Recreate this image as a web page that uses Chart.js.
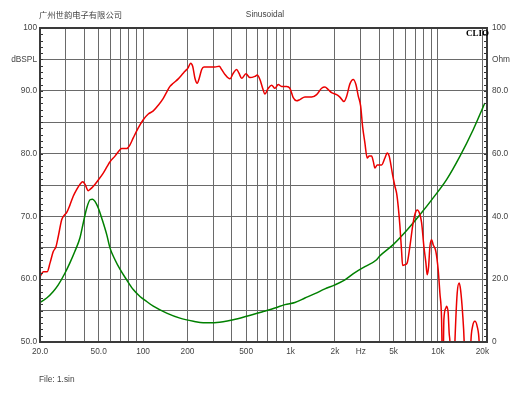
<!DOCTYPE html>
<html><head><meta charset="utf-8">
<script src="https://cdn.jsdelivr.net/npm/chart.js@4"></script>
<style>
html,body{margin:0;padding:0;background:#fff;}
#wrap{position:relative;width:530px;height:398px;overflow:hidden;background:#fff;}
canvas{position:absolute;left:0;top:0;}
.t{position:absolute;white-space:nowrap;color:#444;font-family:'Liberation Sans',Arial,sans-serif;font-size:8.3px;line-height:10px;}
</style></head><body>
<div id="wrap">
<canvas id="c" width="530" height="398"></canvas>
<div class="t" style="left:39px;top:9px;font-family:'Noto Sans CJK SC',sans-serif;font-size:8.3px;">广州世韵电子有限公司</div>
<div class="t" style="left:0;width:530px;text-align:center;top:9px;">Sinusoidal</div>
<div class="t" style="left:466px;top:28px;font-family:'Liberation Serif',serif;font-weight:bold;font-size:9px;color:#000;">CLIO</div>
<div class="t" style="left:39px;top:374px;">File: 1.sin</div>
</div>
<script>
// SPL response (red), Hz / dBSPL
const freqSpl = [20,21.1,22.4,23.4,24.6,25.7,26.6,28.1,29.5,30.3,
31.9,33.6,35.5,37.3,39,40.4,42.5,43.7,46,49.7,
53.7,57.2,59.7,64.5,69.7,71.6,77.4,81.5,85.8,92.8,
100.3,108.5,117.3,126.8,137.1,144.6,152.2,160.2,173.2,182.7,
192.3,202.5,210.2,217,224.8,233,240.4,249.8,258.8,284.2,
307.4,328.7,341.2,359.2,388.4,409,431.2,447,466.2,498.6,
530.6,573.8,594.6,620.2,647,670.6,706,744.6,784,825.4,
870.2,941,990.8,1043,1100,1158,1252,1390,1503,1625,
1711,1801,1899,2054,2162,2302,2400,2528,2662,2777,
2878,2988,3082,3194,3311,3417,3548,3638,3736,3873,
4148,4366,4526,4668,4772,4924,5104,5240,5374,5518,
5666,5754,5964,6182,6448,6788,7082,7228,7540,7742,
8026,8280,8452,8638,8814,9050,9278,9678,10032,10302,
10578,10780,10966,11312,11438,11726,11910,12066,12500,13022,
13500,13926,14234,14686,15056,15800,16712,17166,17794,18438,
19022,20000,21500];
const splDb = [60.4,61.2,61.2,62.6,64.4,65.2,66.8,69.5,70.3,70.6,
71.8,73.2,74.3,75.1,75.5,75.1,74.1,74.3,74.8,75.8,
76.9,78.0,78.7,79.6,80.6,80.8,80.8,81.4,82.5,84.1,
85.4,86.3,86.8,87.7,88.8,89.8,90.7,91.2,91.9,92.5,
93.1,93.7,94.4,93.9,92.0,91.2,92.0,93.4,93.8,93.8,
93.8,93.9,93.4,92.6,91.9,92.8,93.4,92.8,92.0,92.7,
92.1,92.3,92.5,91.8,90.4,89.5,90.4,90.9,90.4,91.0,
90.7,90.7,90.4,88.9,88.4,88.6,89.0,89.0,89.4,90.4,
90.6,90.2,89.7,89.4,89.0,88.3,89.1,91.1,91.8,91.0,
89.2,87.6,84.3,81.7,79.3,79.6,79.6,78.8,77.7,78.2,
78.2,79.3,80.1,79.6,78.5,76.6,74.8,73.7,71.6,68.5,
64.4,62.2,62.3,62.6,65.2,69.0,70.8,71.0,70.3,69.0,
65.2,62.6,60.7,62.0,65.2,66.3,65.5,64.4,61.5,57.8,
53.6,42,53.6,55.4,55.7,54.6,51.4,49.8,36,49.9,
57.8,59.4,58.3,54.6,50,30,50,52.5,53.3,52.5,
50,35,30];
// Impedance (green), Hz / Ohm
const freqImp = [20,22.2,24.6,26.6,29.5,31.9,34.5,37.3,39.3,41.5,
43.7,45.5,47.2,49.7,52.4,56.7,59.7,64.5,69.7,77.4,
85.8,95.3,105.8,117.3,144.6,177.9,219.5,256,315.6,409,
504,653,784,917,1071,1252,1463,1711,2000,2338,
2733,3194,3836,4011,4970,6127,7540,9278,11438,14077,
17327,20790];
const impOhm = [12.6,14.0,16.1,18.2,21.9,25.2,28.9,33.1,37.9,42.7,
45.3,45.5,44.8,42.7,39.5,34.2,29.9,26.2,23.2,19.8,
16.7,14.5,12.9,11.4,9.2,7.6,6.6,6.1,6.2,7.1,
8.2,9.7,10.8,11.9,12.6,14.0,15.4,16.9,18.2,19.8,
22.1,24.0,26.2,27.3,31.0,35.5,40.5,45.9,51.7,59.1,
67.6,76.1];
// ticks
const xGridValues = [20,30,40,50,60,70,80,90,100,200,300,400,500,600,700,800,900,
1000,2000,3000,4000,5000,6000,7000,8000,9000,10000,20000];
const xTickLabels = {20:'20.0',50:'50.0',100:'100',200:'200',500:'500',1000:'1k',2000:'2k',3000:'Hz',5000:'5k',10000:'10k',20000:'20k'};
const leftGridValues = [50,55,60,65,70,75,80,85,90,95,100];
const leftTickLabels = {100:'100',95:'dBSPL',90:'90.0',80:'80.0',70:'70.0',60:'60.0',50:'50.0'};
const rightTickValues = [0,20,40,60,80,90,100];
const rightTickLabels = {100:'100',90:'Ohm',80:'80.0',60:'60.0',40:'40.0',20:'20.0',0:'0'};

const FONT = "'Liberation Sans',Arial,sans-serif";
const frame = {
  id:'frame',
  afterDatasetsDraw(chart){
    const {ctx, chartArea:a, scales} = chart;
    ctx.save();
    ctx.strokeStyle = '#333';
    ctx.lineWidth = 1;
    for (let v = 50; v <= 100; v++) {
      const y = Math.round(scales.yL.getPixelForValue(v)) + 0.5;
      ctx.beginPath(); ctx.moveTo(a.left - 1, y); ctx.lineTo(a.left + 3, y); ctx.stroke();
    }
    for (let v = 0; v <= 100; v += 2) {
      const y = Math.round(scales.yR.getPixelForValue(v)) + 0.5;
      ctx.beginPath(); ctx.moveTo(a.right - 3, y); ctx.lineTo(a.right + 1, y); ctx.stroke();
    }
    ctx.lineWidth = 2;
    ctx.strokeStyle = '#3a3a3a';
    ctx.strokeRect(a.left, a.top, a.right - a.left, a.bottom - a.top);
    ctx.restore();
  }
};

const tickFont = {family:FONT, size:8.3};
new Chart(document.getElementById('c'), {
  type:'line',
  data:{
    datasets:[
      {data:freqSpl.map((f,i)=>({x:f,y:splDb[i]})), yAxisID:'yL', borderColor:'rgb(235,0,0)', borderWidth:1.5},
      {data:freqImp.map((f,i)=>({x:f,y:impOhm[i]})), yAxisID:'yR', borderColor:'rgb(0,128,0)', borderWidth:1.5}
    ]
  },
  options:{
    responsive:false, animation:false, devicePixelRatio:1,
    layout:{padding:{top:28,left:0,right:0,bottom:0}},
    plugins:{legend:{display:false}, tooltip:{enabled:false}},
    elements:{point:{radius:0}, line:{cubicInterpolationMode:'monotone'}},
    scales:{
      x:{type:'logarithmic', min:20, max:21500,
        afterBuildTicks:s=>{s.ticks = xGridValues.map(v=>({value:v}));},
        afterFit:s=>{s.height = 56;},
        grid:{color:'#6a6a6a', lineWidth:1, drawTicks:false},
        border:{display:false},
        ticks:{autoSkip:false, maxRotation:0, minRotation:0, padding:5, color:'#444',
          font:tickFont, callback:(v)=>xTickLabels[v] ?? ''}
      },
      yL:{type:'linear', position:'left', min:50, max:100,
        afterBuildTicks:s=>{s.ticks = leftGridValues.map(v=>({value:v}));},
        afterFit:s=>{s.width = 40;},
        grid:{color:'#6a6a6a', lineWidth:1, drawTicks:false},
        border:{display:false},
        ticks:{padding:3, color:'#444', font:tickFont, callback:(v)=>leftTickLabels[v] ?? ''}
      },
      yR:{type:'linear', position:'right', min:0, max:100,
        afterBuildTicks:s=>{s.ticks = rightTickValues.map(v=>({value:v}));},
        afterFit:s=>{s.width = 43;},
        grid:{display:false, drawTicks:false},
        border:{display:false},
        ticks:{padding:5, color:'#444', font:tickFont, callback:(v)=>rightTickLabels[v] ?? ''}
      }
    }
  },
  plugins:[frame]
});
</script>
</body></html>
